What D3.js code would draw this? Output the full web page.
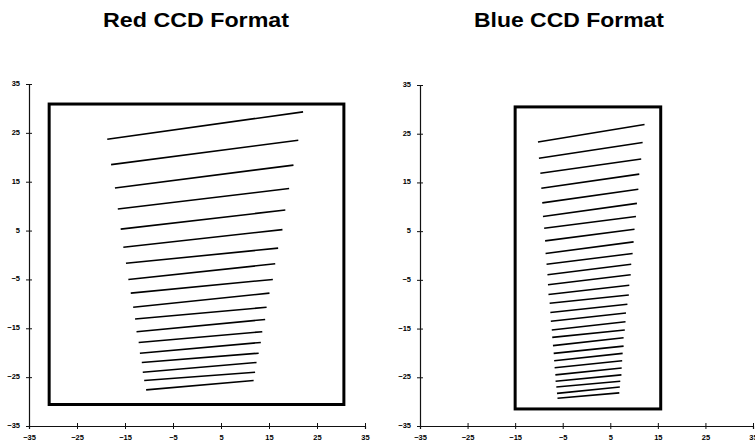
<!DOCTYPE html>
<html><head><meta charset="utf-8">
<script src="https://cdn.jsdelivr.net/npm/d3@7"></script>
<style>
body{margin:0;background:#fff;}
svg{display:block;}
.tick text{font-family:"Liberation Sans",Arial,sans-serif;font-weight:bold;font-size:7.5px;fill:#000;}
</style></head><body>
<svg id="c" width="755" height="447"></svg>
<script>
const titles = ["Red CCD Format", "Blue CCD Format"];
const tickValues = [-35, -25, -15, -5, 5, 15, 25, 35];

// Red CCD: line segments (x1,y1) -> (x2,y2)
const redX1 = [-18.7,-17.9,-17.1,-16.5,-15.9,-15.35,-14.8,-14.3,-13.8,-13.3,-12.9,-12.6,-12.15,-11.9,-11.5,-11.3,-11.0,-10.6];
const redY1 = [23.7,18.5,13.7,9.4,5.3,1.6,-1.7,-5.0,-7.8,-10.7,-13.1,-15.7,-17.9,-20.1,-22.0,-24.0,-25.7,-27.6];
const redX2 = [22.1,21.1,20.1,19.2,18.4,17.8,16.9,16.3,15.8,15.1,14.5,14.2,13.6,13.3,12.85,12.4,12.1,11.8];
const redY2 = [29.3,23.5,18.4,13.6,9.2,5.2,1.4,-1.8,-5.0,-7.8,-10.7,-13.2,-15.7,-17.9,-20.1,-22.0,-24.0,-25.7];
const redBox = [-30.8, 30.6, -30.6, 30.9]; // xmin, xmax, ymin, ymax

// Blue CCD
const blueX1 = [-10.2,-10.0,-9.7,-9.5,-9.3,-9.15,-8.9,-8.7,-8.6,-8.4,-8.2,-8.1,-8.0,-7.75,-7.6,-7.5,-7.3,-7.2,-7.05,-6.9,-6.8,-6.7,-6.55,-6.5,-6.35,-6.2,-6.1];
const blueY1 = [23.3,19.95,16.9,13.8,10.8,8.0,5.6,3.0,0.4,-1.8,-3.95,-6.0,-8.0,-9.8,-11.7,-13.5,-15.3,-16.8,-18.5,-20.1,-21.6,-23.05,-24.5,-25.8,-27.0,-28.3,-29.3];
const blueX2 = [12.2,11.8,11.5,11.1,10.9,10.6,10.4,10.1,9.9,9.7,9.4,9.3,9.0,8.9,8.6,8.3,8.2,8.05,7.8,7.8,7.6,7.5,7.4,7.35,7.1,7.0,6.9];
const blueY2 = [26.9,23.2,19.8,16.7,13.6,10.7,8.0,5.4,2.8,0.4,-1.8,-3.95,-6.1,-8.1,-10.0,-11.8,-13.6,-15.3,-16.9,-18.6,-20.1,-21.6,-23.1,-24.5,-25.8,-27.0,-28.2];
const blueBox = [-15.0, 15.6, -31.5, 30.5];

const svg = d3.select("#c");

const panels = [
  {title: titles[0], tx: 196, tw: 186, xr: [29, 365], yr: [426, 84], x1: redX1, y1: redY1, x2: redX2, y2: redY2, box: redBox},
  {title: titles[1], tx: 569, tw: 190, xr: [420, 753], yr: [426, 85], x1: blueX1, y1: blueY1, x2: blueX2, y2: blueY2, box: blueBox}
];

panels.forEach(p => {
  const x = d3.scaleLinear().domain([-35, 35]).range(p.xr);
  const y = d3.scaleLinear().domain([-35, 35]).range(p.yr);
  const g = svg.append("g");

  g.append("text").attr("x", p.tx).attr("y", 27).attr("text-anchor", "middle")
    .attr("font-family", "Liberation Sans, Arial, sans-serif").attr("font-weight", "bold")
    .attr("font-size", 21).attr("textLength", p.tw).attr("lengthAdjust", "spacingAndGlyphs")
    .text(p.title);

  const xAxis = d3.axisBottom(x).tickValues(tickValues).tickSize(3).tickPadding(4).tickFormat(d3.format("d"));
  const yAxis = d3.axisLeft(y).tickValues(tickValues).tickSize(3).tickPadding(6).tickFormat(d3.format("d"));

  const gx = g.append("g").attr("transform", `translate(0,${y(-35)})`).call(xAxis);
  const gy = g.append("g").attr("transform", `translate(${x(-35)},0)`).call(yAxis);
  [gx, gy].forEach(a => {
    a.select(".domain").attr("stroke", "#111").attr("stroke-width", 1.2);
    a.selectAll(".tick line").attr("stroke", "#111");
  });
  gx.selectAll(".tick line").attr("y1", -3).attr("y2", 3);
  gy.selectAll(".tick line").attr("x1", -3).attr("x2", 3);
  gx.selectAll(".tick text").attr("dy", "0.9em");
  gy.selectAll(".tick text").attr("dy", "0.2em");

  const b = p.box;
  g.append("rect")
    .attr("x", x(b[0])).attr("y", y(b[3]))
    .attr("width", x(b[1]) - x(b[0])).attr("height", y(b[2]) - y(b[3]))
    .attr("fill", "none").attr("stroke", "#000").attr("stroke-width", 3);

  g.selectAll("line.seg").data(d3.range(p.x1.length)).join("line").attr("class", "seg")
    .attr("x1", i => x(p.x1[i])).attr("y1", i => y(p.y1[i]))
    .attr("x2", i => x(p.x2[i])).attr("y2", i => y(p.y2[i]))
    .attr("stroke", "#000").attr("stroke-width", 1.6);
});
</script>
</body></html>
